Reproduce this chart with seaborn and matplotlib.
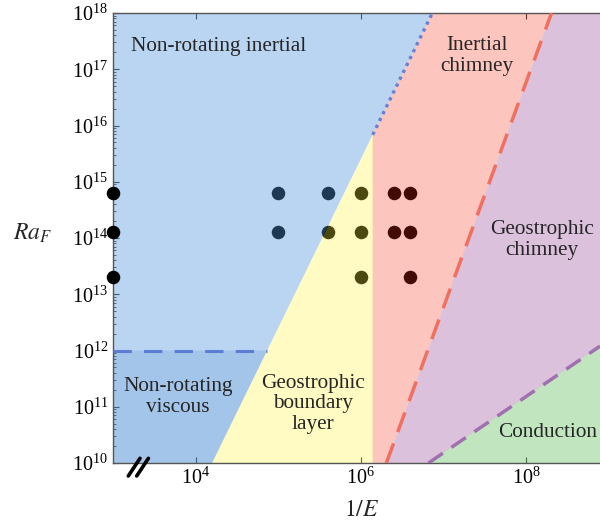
import numpy as np
import pandas as pd
import matplotlib
matplotlib.use("Agg")
import matplotlib.pyplot as plt
import seaborn as sns

# simulations: non-rotating runs (1/E = 0, drawn on the left axis) and rotating runs
nonrot_Ra = [6.2e14, 1.3e14, 2.0e13]
rot_invE = [1e5, 1e5, 4e5, 4e5, 1e6, 1e6, 1e6, 2.5e6, 2.5e6, 4e6, 4e6, 4e6]
rot_Ra = [6.2e14, 1.3e14, 6.2e14, 1.3e14, 6.2e14, 1.3e14, 2.0e13,
          6.2e14, 1.3e14, 6.2e14, 1.3e14, 2.0e13]

# regime boundaries (power laws Ra = Ra0 * (x / x0)**p)
Ra0 = 1e10
rot_x0, rot_p = 10**4.2, 3        # rotation line (boundary layer / dotted)
chim_x = 10**6.145                # vertical edge of boundary layer regime
ic_x0, ic_p = 10**6.31, 4         # inertial chimney -> geostrophic chimney
cd_x0, cd_p = 10**6.82, 1         # geostrophic chimney -> conduction
visc_Ra = 1e12                    # non-rotating viscous / inertial

labels = ["Non-rotating inertial", "Inertial\nchimney", "Geostrophic\nchimney",
          "Non-rotating\nviscous", "Geostrophic\nboundary\nlayer", "Conduction"]

xmin, xmax = 1e3, 10**8.897
ymin, ymax = 1e10, 1e18


def ra_of(x, x0, p):
    return Ra0 * (x / x0) ** p


def x_of(ra, x0, p):
    return x0 * (ra / Ra0) ** (1.0 / p)


sns.set_style("ticks")
plt.rcParams["font.family"] = ["Liberation Serif", "DejaVu Serif"]
plt.rcParams["mathtext.fontset"] = "stix"

fig = plt.figure(figsize=(6, 5.31), dpi=100)
ax = fig.add_axes([113 / 600, 1 - 463 / 531, 487 / 600, 450 / 531])
ax.set_xscale("log")
ax.set_yscale("log")
ax.set_xlim(xmin, xmax)
ax.set_ylim(ymin, ymax)

# points go underneath translucent regime patches
pts = pd.DataFrame({"invE": rot_invE, "Ra": rot_Ra})
sns.scatterplot(data=pts, x="invE", y="Ra", ax=ax, color="black", s=95,
                linewidth=0, zorder=1)

rot_top = x_of(ymax, rot_x0, rot_p)
rot_visc = x_of(visc_Ra, rot_x0, rot_p)
ic_top = x_of(ymax, ic_x0, ic_p)
chim_Ra = ra_of(chim_x, rot_x0, rot_p)
cd_end = ra_of(xmax, cd_x0, cd_p)

regions = [
    ([xmin, rot_x0, rot_top, xmin], [ymin, ymin, ymax, ymax], (0.31, 0.58, 0.86, 0.39)),
    ([xmin, rot_x0, rot_visc, xmin], [ymin, ymin, visc_Ra, visc_Ra], (0.25, 0.50, 0.80, 0.18)),
    ([rot_x0, chim_x, chim_x], [ymin, ymin, chim_Ra], (1.0, 0.96, 0.22, 0.30)),
    ([chim_x, ic_x0, ic_top, rot_top, chim_x], [ymin, ymin, ymax, ymax, chim_Ra],
     (0.96, 0.16, 0.06, 0.27)),
    ([ic_x0, cd_x0, xmax, xmax, ic_top], [ymin, ymin, cd_end, ymax, ymax],
     (0.62, 0.33, 0.62, 0.36)),
    ([cd_x0, xmax, xmax], [ymin, ymin, cd_end], (0.40, 0.76, 0.38, 0.40)),
]
for xs, ys, col in regions:
    ax.fill(xs, ys, color=col, lw=0, zorder=2)

# regime boundary lines
ax.plot([xmin, rot_visc], [visc_Ra, visc_Ra], color="#5b7dd4", lw=2.2,
        dashes=(6, 4), zorder=3)
xr = np.geomspace(chim_x, rot_top, 20)
ax.plot(xr, ra_of(xr, rot_x0, rot_p), color="#6c7fd2", lw=2.4, ls=(0, (1, 1.3)), zorder=3)
xi = np.geomspace(ic_x0, ic_top, 20)
ax.plot(xi, ra_of(xi, ic_x0, ic_p), color="#f07060", lw=2.5, dashes=(6, 3.5), zorder=3)
xc = np.geomspace(cd_x0, xmax, 20)
ax.plot(xc, ra_of(xc, cd_x0, cd_p), color="#a070b0", lw=2.5, dashes=(5, 3), zorder=3)

# non-rotating runs sit on the axis (1/E = 0)
ax.scatter([xmin] * len(nonrot_Ra), nonrot_Ra, color="black", s=95, lw=0,
           zorder=5, clip_on=False)

# axis break mark
for x0 in (128.3, 136.7):
    ax.plot([(x0 - 113) / 487, (x0 + 11.7 - 113) / 487],
            [(463 - 476) / 450, (463 - 458.3) / 450],
            transform=ax.transAxes, color="black", lw=2.6, clip_on=False, zorder=6)

txt = dict(fontsize=15.3, linespacing=1.12, zorder=4, va="center")
ax.text(10**3.218, 10**17.4, labels[0], ha="left", **txt)
ax.text(10**7.407, 10**17.24, labels[1], ha="center", **txt)
ax.text(10**8.196, 10**13.96, labels[2], ha="center", **txt)
ax.text(10**3.79, 10**11.17, labels[3], ha="center", **txt)
ax.text(10**5.424, 10**11.05, labels[4], ha="center", **txt)
ax.text(10**8.257, 10**10.55, labels[5], ha="center", **txt)

ax.set_xticks([1e4, 1e6, 1e8])
ax.xaxis.set_minor_locator(matplotlib.ticker.NullLocator())
ax.set_yticks([10.0**k for k in range(10, 19)])
ax.yaxis.set_minor_locator(matplotlib.ticker.LogLocator(base=10, subs=np.arange(2, 10), numticks=20))
ax.yaxis.set_minor_formatter(matplotlib.ticker.NullFormatter())
ax.tick_params(which="both", direction="in", top=True, labelsize=14.5, colors="#333333",
               labelcolor="black")
ax.tick_params(which="major", length=4, width=0.8)
ax.tick_params(which="minor", length=2, width=0.6)
for side in ("left", "bottom", "top"):
    ax.spines[side].set_color("#555555")
    ax.spines[side].set_linewidth(1.0)
ax.spines["right"].set_visible(False)

ax.set_xlabel("$1/E$", fontsize=17)
ax.xaxis.set_label_coords(0.511, -0.082)
ax.set_ylabel("$Ra_F$", fontsize=17, rotation=0, va="center")
ax.yaxis.set_label_coords(-0.166, 0.511)

fig.savefig("out.png", dpi=100)
